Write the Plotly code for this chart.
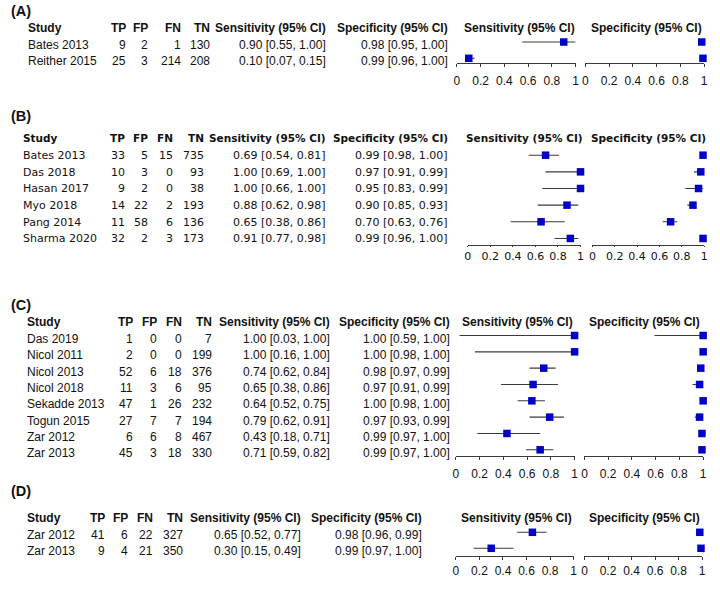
import plotly.graph_objects as go

# ---- data: panel A ----
a_study = ['Bates 2013', 'Reither 2015']
a_tp = [9, 25]
a_fp = [2, 3]
a_fn = [1, 214]
a_tn = [130, 208]
a_sens = [0.90, 0.10]
a_sens_lo = [0.55, 0.07]
a_sens_hi = [1.00, 0.15]
a_spec = [0.98, 0.99]
a_spec_lo = [0.95, 0.96]
a_spec_hi = [1.00, 1.00]

# ---- data: panel B ----
b_study = ['Bates 2013', 'Das 2018', 'Hasan 2017', 'Myo 2018', 'Pang 2014', 'Sharma 2020']
b_tp = [33, 10, 9, 14, 11, 32]
b_fp = [5, 3, 2, 22, 58, 2]
b_fn = [15, 0, 0, 2, 6, 3]
b_tn = [735, 93, 38, 193, 136, 173]
b_sens = [0.69, 1.00, 1.00, 0.88, 0.65, 0.91]
b_sens_lo = [0.54, 0.69, 0.66, 0.62, 0.38, 0.77]
b_sens_hi = [0.81, 1.00, 1.00, 0.98, 0.86, 0.98]
b_spec = [0.99, 0.97, 0.95, 0.90, 0.70, 0.99]
b_spec_lo = [0.98, 0.91, 0.83, 0.85, 0.63, 0.96]
b_spec_hi = [1.00, 0.99, 0.99, 0.93, 0.76, 1.00]

# ---- data: panel C ----
c_study = ['Das 2019', 'Nicol 2011', 'Nicol 2013', 'Nicol 2018', 'Sekadde 2013',
           'Togun 2015', 'Zar 2012', 'Zar 2013']
c_tp = [1, 2, 52, 11, 47, 27, 6, 45]
c_fp = [0, 0, 6, 3, 1, 7, 6, 3]
c_fn = [0, 0, 18, 6, 26, 7, 8, 18]
c_tn = [7, 199, 376, 95, 232, 194, 467, 330]
c_sens = [1.00, 1.00, 0.74, 0.65, 0.64, 0.79, 0.43, 0.71]
c_sens_lo = [0.03, 0.16, 0.62, 0.38, 0.52, 0.62, 0.18, 0.59]
c_sens_hi = [1.00, 1.00, 0.84, 0.86, 0.75, 0.91, 0.71, 0.82]
c_spec = [1.00, 1.00, 0.98, 0.97, 1.00, 0.97, 0.99, 0.99]
c_spec_lo = [0.59, 0.98, 0.97, 0.91, 0.98, 0.93, 0.97, 0.97]
c_spec_hi = [1.00, 1.00, 0.99, 0.99, 1.00, 0.99, 1.00, 1.00]

# ---- data: panel D ----
d_study = ['Zar 2012', 'Zar 2013']
d_tp = [41, 9]
d_fp = [6, 4]
d_fn = [22, 21]
d_tn = [327, 350]
d_sens = [0.65, 0.30]
d_sens_lo = [0.52, 0.15]
d_sens_hi = [0.77, 0.49]
d_spec = [0.98, 0.99]
d_spec_lo = [0.96, 0.97]
d_spec_hi = [0.99, 1.00]

tick_vals = [0, 0.2, 0.4, 0.6, 0.8, 1]
tick_text = ['0', '0.2', '0.4', '0.6', '0.8', '1']

W, H = 720, 591
ARIAL = 'Liberation Sans, Arial, sans-serif'
LUCIDA = 'DejaVu Sans, sans-serif'
MARKER = '#0000C8'
LINE = '#3a3a3a'


def px(x):
    return x / W


def py(y):
    return 1 - y / H


# layout of each panel in pixels (positions only, no data)
PANELS = [
    dict(label='(A)', label_y=11, header_y=28, row0=45, dy=16.3, moff=-3, axis_y=63.3,
         font=ARIAL, size=12, hsize=12, study_x=22,
         cols=[125, 148, 181, 210, 328, 451], sens_ax=(458, 578), spec_ax=(588, 708),
         sens_h=521, spec_h=650, in_len=3, out_len=3, standoff=3,
         data=(a_study, a_tp, a_fp, a_fn, a_tn, a_sens, a_sens_lo, a_sens_hi,
               a_spec, a_spec_lo, a_spec_hi)),
    dict(label='(B)', label_y=116, header_y=138, row0=155.7, dy=16.65, moff=-0.5, axis_y=245,
         font=LUCIDA, size=11, hsize=10.5, study_x=17,
         cols=[124, 148, 173, 204, 328, 451], sens_ax=(469, 583), spec_ax=(595, 708),
         sens_h=526, spec_h=652, in_len=5, out_len=1, standoff=0,
         data=(b_study, b_tp, b_fp, b_fn, b_tn, b_sens, b_sens_lo, b_sens_hi,
               b_spec, b_spec_lo, b_spec_hi)),
    dict(label='(C)', label_y=305, header_y=321.7, row0=339, dy=16.33, moff=-3.5, axis_y=455.7,
         font=ARIAL, size=12, hsize=12, study_x=21,
         cols=[132, 157, 182, 212, 332, 453], sens_ax=(457, 577), spec_ax=(587, 707),
         sens_h=519, spec_h=648, in_len=3, out_len=3, standoff=4,
         data=(c_study, c_tp, c_fp, c_fn, c_tn, c_sens, c_sens_lo, c_sens_hi,
               c_spec, c_spec_lo, c_spec_hi)),
    dict(label='(D)', label_y=491, header_y=518, row0=535, dy=16, moff=-2.7, axis_y=555.7,
         font=ARIAL, size=12, hsize=12, study_x=21,
         cols=[104, 127, 153, 183, 302, 425], sens_ax=(457, 576), spec_ax=(587, 706),
         sens_h=518.5, spec_h=648, in_len=3, out_len=3, standoff=1,
         data=(d_study, d_tp, d_fp, d_fn, d_tn, d_sens, d_sens_lo, d_sens_hi,
               d_spec, d_spec_lo, d_spec_hi)),
]

fig = go.Figure()
annotations = []
layout_axes = {}


def ann(x, y, text, font, size, anchor='left', bold=False):
    annotations.append(dict(
        x=px(x), y=py(y), xref='paper', yref='paper', showarrow=False,
        text=f'<b>{text}</b>' if bold else text,
        xanchor=anchor, yanchor='middle',
        font=dict(family=font, size=size, color='#111111')))


for k, p in enumerate(PANELS):
    study, tp, fp, fn, tn, sens, sens_lo, sens_hi, spec, spec_lo, spec_hi = p['data']
    n = len(study)
    rows = list(range(n))

    # panel label and column headers
    ann(5, p['label_y'], p['label'], ARIAL, 14.5, bold=True)
    hdr = ['TP', 'FP', 'FN', 'TN', 'Sensitivity (95% CI)', 'Specificity (95% CI)']
    ann(p['study_x'], p['header_y'], 'Study', p['font'], p['hsize'], bold=True)
    for xr, h in zip(p['cols'], hdr):
        ann(xr, p['header_y'], h, p['font'], p['hsize'], anchor='right', bold=True)
    ann(p['sens_h'], p['header_y'], 'Sensitivity (95% CI)', p['font'], p['hsize'],
        anchor='center', bold=True)
    ann(p['spec_h'], p['header_y'], 'Specificity (95% CI)', p['font'], p['hsize'],
        anchor='center', bold=True)

    # table rows
    for i in rows:
        y = p['row0'] + i * p['dy']
        ann(p['study_x'], y, study[i], p['font'], p['size'])
        cells = [str(tp[i]), str(fp[i]), str(fn[i]), str(tn[i]),
                 f'{sens[i]:.2f} [{sens_lo[i]:.2f}, {sens_hi[i]:.2f}]',
                 f'{spec[i]:.2f} [{spec_lo[i]:.2f}, {spec_hi[i]:.2f}]']
        for xr, c in zip(p['cols'], cells):
            ann(xr, y, c, p['font'], p['size'], anchor='right')

    # axes
    xs, xp = 2 * k + 1, 2 * k + 2
    xs_o, xp_o = 9 + 2 * k, 10 + 2 * k
    yi = k + 1
    m0 = p['row0'] + p['moff']
    dy = p['dy']
    layout_axes[f'yaxis{yi}'] = dict(
        domain=[py(p['axis_y']), py(m0 - 0.7 * dy)],
        range=[(p['axis_y'] - m0) / dy, -0.7],
        visible=False, anchor=f'x{xs}', fixedrange=True)

    tfont = dict(family=p['font'], size=12 if p['font'] == ARIAL else 11, color='#111111')
    for main, over, (d0, d1) in [(xs, xs_o, p['sens_ax']), (xp, xp_o, p['spec_ax'])]:
        layout_axes[f'xaxis{main}'] = dict(
            domain=[px(d0), px(d1)], range=[0, 1], anchor=f'y{yi}',
            showline=True, linecolor=LINE, linewidth=1, showgrid=False, zeroline=False,
            ticks='outside', ticklen=p['out_len'], tickwidth=1, tickcolor=LINE,
            tickvals=tick_vals, ticktext=tick_text, tickfont=tfont,
            ticklabelstandoff=p['standoff'], fixedrange=True)
        layout_axes[f'xaxis{over}'] = dict(
            overlaying=f'x{main}', range=[0, 1], anchor=f'y{yi}',
            showline=False, showgrid=False, zeroline=False,
            ticks='inside', ticklen=p['in_len'], tickwidth=1, tickcolor=LINE,
            tickvals=tick_vals, showticklabels=False, fixedrange=True)

    # forest plot markers with CI lines
    for main, val, lo, hi in [(xs, sens, sens_lo, sens_hi), (xp, spec, spec_lo, spec_hi)]:
        fig.add_trace(go.Scatter(
            x=val, y=rows, xaxis=f'x{main}', yaxis=f'y{yi}',
            mode='markers', cliponaxis=False, showlegend=False,
            marker=dict(symbol='square', size=7.5, color=MARKER, line=dict(width=0)),
            error_x=dict(type='data', symmetric=False,
                         array=[h - v for h, v in zip(hi, val)],
                         arrayminus=[v - l for v, l in zip(val, lo)],
                         width=0, thickness=1.1, color=LINE)))

fig.update_layout(
    width=W, height=H,
    margin=dict(l=0, r=0, t=0, b=0),
    paper_bgcolor='white', plot_bgcolor='rgba(0,0,0,0)',
    annotations=annotations,
    **layout_axes)

# drop the default 8px page margin so the 720x591 figure fills the window
fig.write_html('out.html', config={'displayModeBar': False},
               post_script="document.body.style.margin='0';")
